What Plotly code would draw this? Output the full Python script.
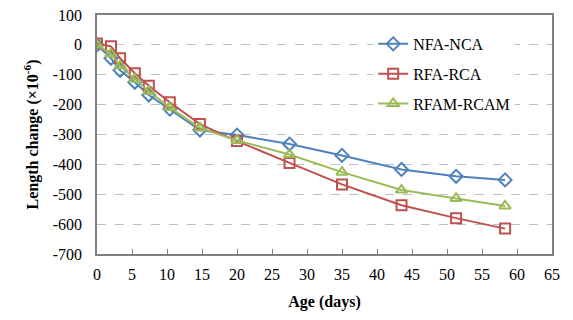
import plotly.graph_objects as go

age = [0, 2, 3.3, 5.4, 7.4, 10.4, 14.7, 20, 27.5, 35, 43.5, 51.3, 58.3]
nfa_nca = [0, -45, -85, -125, -168, -215, -285, -302, -332, -370, -417, -440, -452]
rfa_rca = [5, -5, -45, -95, -137, -192, -265, -322, -395, -467, -537, -580, -615]
rfam_rcam = [0, -30, -70, -115, -155, -210, -278, -320, -367, -426, -486, -514, -539]

y_tick_vals = [100, 0, -100, -200, -300, -400, -500, -600, -700]
y_tick_text = ["100", "0", "-100", "-200", "-300", "-400", "-500", "-600", "-700"]

series = [
    ("NFA-NCA", nfa_nca, "#4F81BD", "diamond-open"),
    ("RFA-RCA", rfa_rca, "#C0504D", "square-open"),
    ("RFAM-RCAM", rfam_rcam, "#9BBB59", "triangle-up-open"),
]

font_family = "Liberation Serif"

fig = go.Figure()
for i, (name, vals, color, sym) in enumerate(series):
    fig.add_trace(go.Scatter(
        x=age, y=vals, name=name, mode="lines+markers",
        line=dict(color=color, width=2),
        marker=dict(symbol=sym, size=10, color=color, line=dict(width=2, color=color)),
        legendgroup=f"g{i}",
    ))

# page body has an 8px default margin, compensate in figure margins
fig.update_layout(
    width=573, height=320,
    margin=dict(l=89, r=29, t=7, b=74),
    paper_bgcolor="white", plot_bgcolor="white",
    font=dict(family=font_family, size=16, color="black"),
    showlegend=True,
    legend=dict(
        x=0.607, xanchor="left", y=0.95, yanchor="top",
        bgcolor="white", borderwidth=0,
        tracegroupgap=6, itemwidth=30,
        font=dict(family=font_family, size=16, color="black"),
    ),
    xaxis=dict(
        range=[0, 65], tickmode="linear", tick0=0, dtick=5,
        showgrid=False, zeroline=False, automargin=False,
        showline=True, linecolor="#808080", linewidth=1.5, mirror=True,
        ticks="inside", ticklen=5, tickcolor="#808080",
        ticklabelstandoff=5, ticklabeloverflow="allow",
        tickfont=dict(family=font_family, size=16, color="black"),
        title=dict(text="<b>Age (days)</b>", font=dict(family=font_family, size=16), standoff=14),
    ),
    yaxis=dict(
        range=[-700, 100], tickmode="array", tickvals=y_tick_vals, ticktext=y_tick_text,
        showgrid=True, gridcolor="#BFBFBF", griddash="dash", gridwidth=1,
        zeroline=False, automargin=False,
        showline=True, linecolor="#808080", linewidth=1.5, mirror=True,
        ticks="", ticklabelstandoff=10, ticklabeloverflow="allow",
        tickfont=dict(family=font_family, size=16, color="black"),
        title=dict(text="<b>Length change (×10<sup>-6</sup>)</b>", font=dict(family=font_family, size=16), standoff=10),
    ),
)

fig.write_html("out.html")
